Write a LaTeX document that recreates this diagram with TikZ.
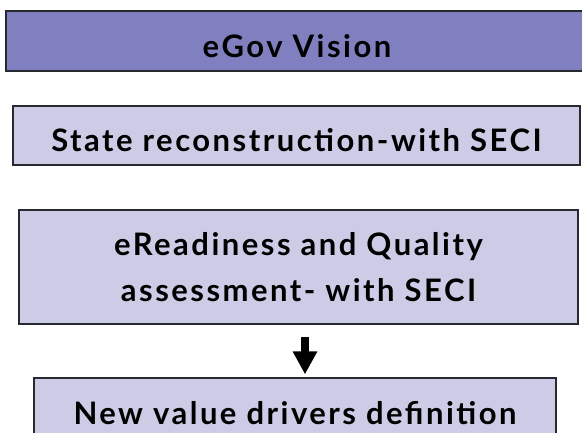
\documentclass[tikz,border=0pt]{standalone}
\usepackage{fontspec}
\newfontfamily\boxfont[LetterSpace=8]{Lato}
\usetikzlibrary{arrows.meta}
\definecolor{visionfill}{RGB}{128,128,192}
\definecolor{stepfill}{RGB}{204,204,230}
\definecolor{boxline}{RGB}{40,40,48}

\begin{document}
\begin{tikzpicture}[x=1pt,y=-1pt,
		stagebox/.style={draw=boxline,line width=1.2pt,fill=stepfill,inner sep=0pt,
			font=\boxfont\bfseries\fontsize{31}{46}\selectfont,align=center,
			text height=32pt,text depth=0pt},
		visionbox/.style={stagebox,fill=visionfill}]
		%%%%% START %%%%%
		\useasboundingbox (0, 0) rectangle (582, 432);
		\clip (0, 0) rectangle (582, 432);
		\fill[white] (0, 0) rectangle (582, 432);
		
		\node[visionbox,minimum width=582pt,minimum height=60pt] (vis) at (297, 41) {eGov Vision};
		
		\node[stagebox,minimum width=567pt,minimum height=59pt] (rec) at (296.5, 135.5) {State reconstruction-with SECI};
		
		\node[stagebox,minimum width=559pt,minimum height=114pt,text height=,text depth=] (ass) at (298.5, 267) {eReadiness and Quality\\assessment- with SECI};
		
		\node[stagebox,minimum width=522pt,minimum height=61pt] (drv) at (295, 408.5) {New value drivers definition};
		
		\draw[line width=8pt,-{Triangle[length=23pt,width=23pt]},shorten <=12pt,shorten >=3pt]
			([xshift=6.5pt]ass.south) -- ([xshift=6.5pt]ass.south |- drv.north);
		%%%%% END %%%%%
	\end{tikzpicture}
\end{document}
